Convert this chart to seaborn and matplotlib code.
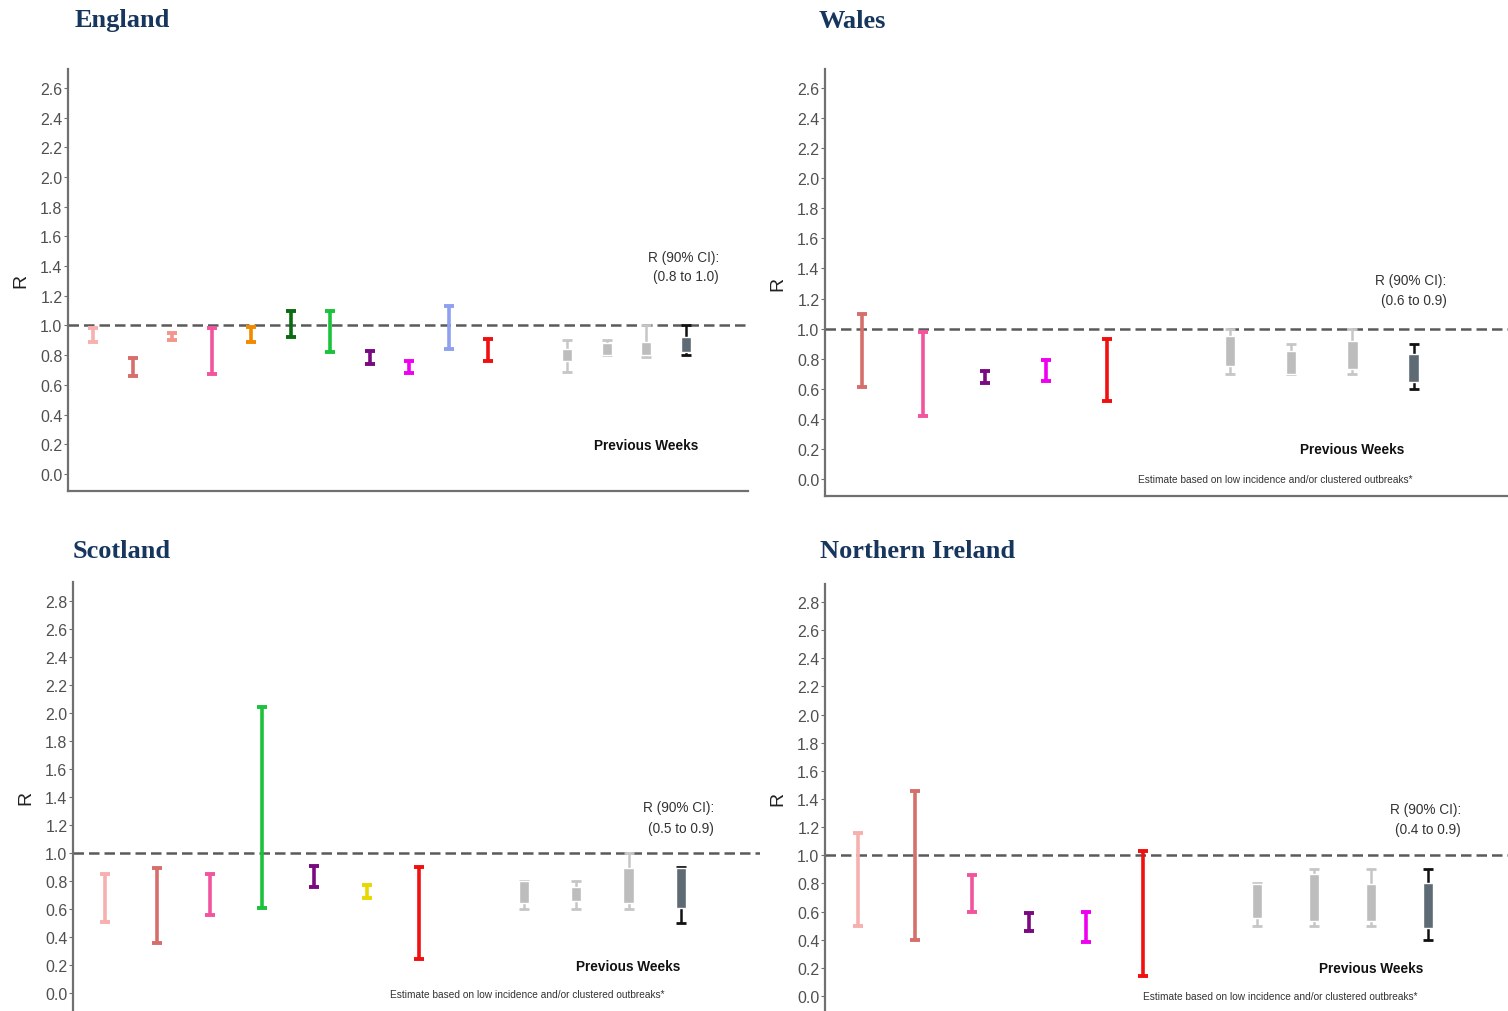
import numpy as np
import pandas as pd
import matplotlib.pyplot as plt
import seaborn as sns

# England - current week estimates by group (90% CI)
eng_cols = ['#F6B0AE', '#D66F6C', '#F3958C', '#F2559E', '#F28A00', '#0B6B12',
            '#1CC13C', '#7A0A80', '#F000F0', '#8FA0F0', '#F01010']
eng_lo = [0.89, 0.66, 0.90, 0.67, 0.89, 0.92, 0.82, 0.74, 0.68, 0.84, 0.76]
eng_hi = [0.98, 0.78, 0.95, 0.98, 0.99, 1.10, 1.10, 0.83, 0.76, 1.13, 0.91]
# England - previous weeks (whisker low, box low, box high, whisker high)
eng_wlo = [0.69, 0.80, 0.79, 0.80]
eng_blo = [0.76, 0.80, 0.80, 0.82]
eng_bhi = [0.84, 0.88, 0.89, 0.92]
eng_whi = [0.90, 0.90, 1.00, 1.00]

# Wales
wal_cols = ['#D66F6C', '#F2559E', '#7A0A80', '#F000F0', '#F01010']
wal_lo = [0.61, 0.42, 0.64, 0.65, 0.52]
wal_hi = [1.10, 0.98, 0.72, 0.79, 0.93]
wal_wlo = [0.70, 0.70, 0.70, 0.60]
wal_blo = [0.75, 0.70, 0.73, 0.645]
wal_bhi = [0.95, 0.85, 0.92, 0.83]
wal_whi = [1.00, 0.90, 1.00, 0.90]

# Scotland
sco_cols = ['#F6B0AE', '#D66F6C', '#F2559E', '#1CC13C', '#7A0A80', '#E8D800', '#F01010']
sco_lo = [0.51, 0.36, 0.56, 0.61, 0.76, 0.68, 0.24]
sco_hi = [0.85, 0.89, 0.85, 2.04, 0.91, 0.77, 0.90]
sco_wlo = [0.60, 0.60, 0.60, 0.50]
sco_blo = [0.64, 0.655, 0.64, 0.61]
sco_bhi = [0.80, 0.755, 0.89, 0.89]
sco_whi = [0.80, 0.80, 1.00, 0.90]

# Northern Ireland
ni_cols = ['#F6B0AE', '#D66F6C', '#F2559E', '#7A0A80', '#F000F0', '#F01010']
ni_lo = [0.50, 0.40, 0.60, 0.46, 0.38, 0.14]
ni_hi = [1.16, 1.46, 0.86, 0.59, 0.60, 1.03]
ni_wlo = [0.50, 0.50, 0.50, 0.40]
ni_blo = [0.555, 0.533, 0.533, 0.48]
ni_bhi = [0.795, 0.864, 0.793, 0.805]
ni_whi = [0.80, 0.90, 0.90, 0.90]

titles = ['England', 'Wales', 'Scotland', 'Northern Ireland']
ci_texts = ['(0.8 to 1.0)', '(0.6 to 0.9)', '(0.5 to 0.9)', '(0.4 to 0.9)']
note = 'Estimate based on low incidence and/or clustered outbreaks*'

sns.set_theme(style='ticks')
plt.rcParams['font.family'] = ['Liberation Sans', 'DejaVu Sans']

W, H = 1508, 1012
fig = plt.figure(figsize=(W / 100, H / 100), dpi=100)


def px_axes(l, t, r, b):
    return fig.add_axes([l / W, 1 - b / H, (r - l) / W, (b - t) / H])


def panel(ax, cols, lo, hi, wlo, blo, bhi, whi, ymax, box_w):
    n = len(cols)
    x_cur = np.arange(1, n + 1)
    x_prev = np.arange(n + 2, n + 6)
    ax.axhline(1.0, color='#5A5A5A', lw=1.8, dashes=(4.2, 2.0), zorder=1)
    for x, c, a, b in zip(x_cur, cols, lo, hi):
        mid = (a + b) / 2
        ax.errorbar([x], [mid], yerr=[[mid - a], [b - mid]], fmt='none',
                    ecolor=c, elinewidth=2.6, capsize=3.6, capthick=2.8, zorder=3)
    for i, x in enumerate(x_prev):
        dark = i == 3
        wc = '#111111' if dark else '#C6C6C6'
        bc = '#5E6A74' if dark else '#BDBDBD'
        mid = (wlo[i] + whi[i]) / 2
        ax.errorbar([x], [mid], yerr=[[mid - wlo[i]], [whi[i] - mid]], fmt='none',
                    ecolor=wc, elinewidth=1.8, capsize=3.8, capthick=2.0, zorder=2)
        ax.bar(x, bhi[i] - blo[i], bottom=blo[i], width=box_w, color=bc, zorder=3)
    ax.set_xticks([])
    ax.set_yticks(np.arange(0, ymax + 0.01, 0.2))
    ax.set_yticklabels([f'{v:.1f}' for v in np.arange(0, ymax + 0.01, 0.2)])
    ax.tick_params(axis='y', labelsize=11.5, labelcolor='#505050', length=3,
                   width=0.8, color='#707070', pad=1)
    sns.despine(ax=ax)
    for s in ['left', 'bottom']:
        ax.spines[s].set_color('#707070')
        ax.spines[s].set_linewidth(1.6)
    ax.set_ylabel('R', fontsize=14, color='#222222')
    return x_cur, x_prev


# pixel boxes: left, top, right, bottom
boxes = [(68, 70, 748, 492), (825, 70, 1508, 497), (73, 583, 760, 1012), (825, 585, 1508, 1012)]
xlims = [(0.367, 17.58), (0.396, 11.54), (0.389, 13.51), (0.421, 12.40)]
ylims = [(-0.1145, 2.727), (-0.113, 2.726), (-0.129, 2.936), (-0.107, 2.928)]
ymaxs = [2.6, 2.6, 2.8, 2.8]
box_ws = [0.25, 0.17, 0.2, 0.18]
data = [
    (eng_cols, eng_lo, eng_hi, eng_wlo, eng_blo, eng_bhi, eng_whi),
    (wal_cols, wal_lo, wal_hi, wal_wlo, wal_blo, wal_bhi, wal_whi),
    (sco_cols, sco_lo, sco_hi, sco_wlo, sco_blo, sco_bhi, sco_whi),
    (ni_cols, ni_lo, ni_hi, ni_wlo, ni_blo, ni_bhi, ni_whi),
]
# text anchors (y in R units)
ci_y = [(1.46, 1.33), (1.323, 1.19), (1.33, 1.18), (1.33, 1.19)]
pw_y = [0.195, 0.20, 0.193, 0.20]
note_x = [None, 7.74, 9.06, 8.4]
note_y = [None, 0.0, -0.007, 0.0]
title_xy = [(75, 21), (819, 21), (73, 552), (820, 552)]

for k in range(4):
    l, t, r, b = boxes[k]
    ax = px_axes(l, t, r, b)
    x_cur, x_prev = panel(ax, *data[k], ymaxs[k], box_ws[k])
    ax.set_xlim(*xlims[k])
    ax.set_ylim(*ylims[k])
    ax.yaxis.set_label_coords(-39 / (r - l), 0.5)
    if k >= 2:
        ax.spines['bottom'].set_visible(False)
    xl = x_prev[-1]
    ax.text(xl - 0.05, ci_y[k][0], 'R (90% CI):', ha='center', va='center',
            fontsize=9.8, color='#333333')
    ax.text(xl, ci_y[k][1], ci_texts[k], ha='center', va='center',
            fontsize=9.8, color='#333333')
    ax.text(x_prev[-2], pw_y[k], 'Previous Weeks', ha='center', va='center',
            fontsize=9.8, fontweight='bold', color='#111111')
    if note_x[k] is not None:
        ax.text(note_x[k], note_y[k], note, ha='center', va='center',
                fontsize=7.3, color='#333333')
    tx, ty = title_xy[k]
    fig.text(tx / W, 1 - ty / H, titles[k], ha='left', va='center', fontsize=19,
             fontweight='bold', family='Liberation Serif', color='#17365D')

fig.savefig('out.png', dpi=100)
